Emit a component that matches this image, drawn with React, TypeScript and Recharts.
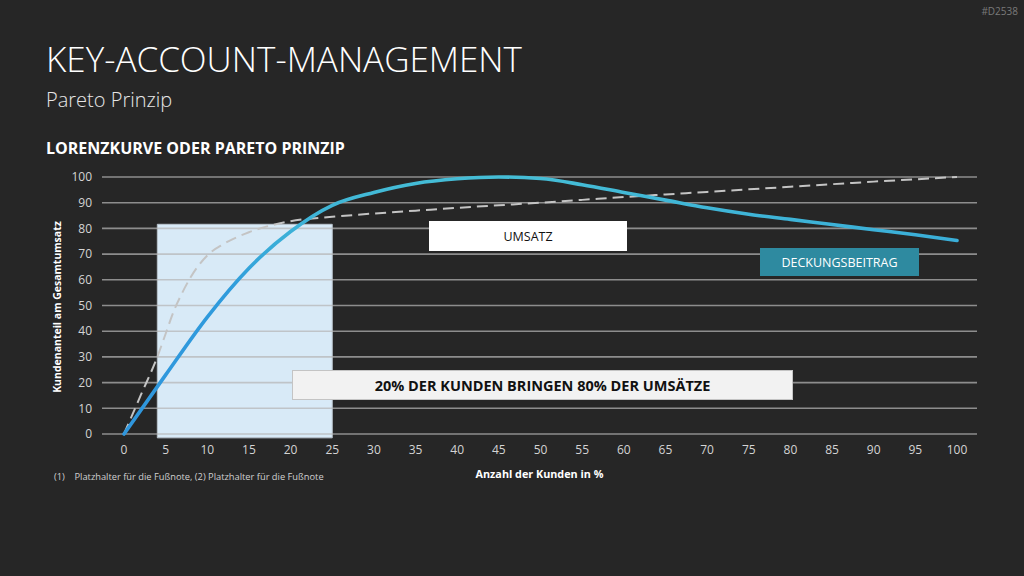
import React from 'react';
import { LineChart, Line, XAxis, YAxis, ReferenceArea, ReferenceLine } from 'recharts';

// x = Anzahl der Kunden in %
const xValues = [0, 2, 4, 5, 6, 7, 8, 10, 12, 15, 20, 25, 30, 35, 40, 45, 50, 55, 60, 65, 70, 75, 80, 85, 90, 95, 100];
// Deckungsbeitrag only read at every 5%
const deckungsbeitrag = [0, null, null, 23, null, null, null, 45.5, null, 64.5, 78.8, 89, 94, 97.5, 99.3, 100, 99.4, 97, 94, 91, 88, 85.5, 83.5, 81.5, 79.5, 77.5, 75.3];
const umsatz = [0, 15, 30, 39, 48, 55, 61, 69.5, 74, 78.5, 82.8, 84.5, 85.8, 86.9, 88, 89, 90, 91.1, 92.2, 93.2, 94.2, 95.2, 96.2, 97.2, 98.2, 99.1, 100];

const xTicks = [0, 5, 10, 15, 20, 25, 30, 35, 40, 45, 50, 55, 60, 65, 70, 75, 80, 85, 90, 95, 100];
const yTicks = [0, 10, 20, 30, 40, 50, 60, 70, 80, 90, 100];

// highlighted 20% band
const bandX = [4, 25];
const bandY = [-1.5, 81.6];

const data = xValues.map((x, i) => ({ x, db: deckungsbeitrag[i], umsatz: umsatz[i] }));

const FONT = '"Open Sans", "Noto Sans", sans-serif';
const BG = '#262626';

const box = (extra: React.CSSProperties): React.CSSProperties => ({
  position: 'absolute',
  display: 'flex',
  alignItems: 'center',
  justifyContent: 'center',
  boxSizing: 'border-box',
  fontFamily: FONT,
  ...extra,
});

export default function App() {
  return (
    <div style={{ position: 'fixed', left: 0, top: 0, width: 1024, height: 576, background: BG, overflow: 'hidden', fontFamily: FONT }}>
      <div style={{ position: 'absolute', right: 6, top: 6, fontSize: 10, color: '#7a7a7a', lineHeight: 1 }}>#D2538</div>
      <div style={{ position: 'absolute', left: 46, top: 41, fontSize: 35, fontWeight: 300, color: '#ffffff', lineHeight: 1, whiteSpace: 'nowrap' }}>
        KEY-ACCOUNT-MANAGEMENT
      </div>
      <div style={{ position: 'absolute', left: 46, top: 90, fontSize: 20, fontWeight: 300, color: '#e6e6e6', lineHeight: 1 }}>
        Pareto Prinzip
      </div>
      <div style={{ position: 'absolute', left: 46, top: 140, fontSize: 16, fontWeight: 700, color: '#ffffff', lineHeight: 1, whiteSpace: 'nowrap' }}>
        LORENZKURVE ODER PARETO PRINZIP
      </div>

      <div style={{ position: 'absolute', left: 0, top: 0 }}>
        <LineChart width={1024} height={576} data={data} margin={{ top: 177, right: 47, bottom: 112, left: 72 }}>
          <defs>
            <linearGradient id="dbGrad" x1="0" y1="0" x2="0" y2="1">
              <stop offset="0%" stopColor="#45bdd6" />
              <stop offset="25%" stopColor="#3aaed8" />
              <stop offset="45%" stopColor="#2f9bdc" />
              <stop offset="100%" stopColor="#2f96dd" />
            </linearGradient>
          </defs>
          <XAxis
            dataKey="x"
            type="number"
            domain={[0, 100]}
            ticks={xTicks}
            padding={{ left: 22, right: 20 }}
            axisLine={false}
            tickLine={false}
            tickSize={0}
            tickMargin={11}
            height={30}
            tick={{ fill: '#d4d4d4', fontSize: 12, fontFamily: FONT }}
            interval={0}
            label={{ value: 'Anzahl der Kunden in %', position: 'bottom', offset: 6, fill: '#ffffff', fontSize: 10.8, fontWeight: 700, fontFamily: FONT }}
          />
          <YAxis
            type="number"
            domain={[0, 100]}
            ticks={yTicks}
            axisLine={false}
            tickLine={false}
            tickSize={0}
            tickMargin={10}
            width={30}
            interval={0}
            tick={{ fill: '#d4d4d4', fontSize: 12, fontFamily: FONT }}
          />
          <ReferenceArea
            x1={bandX[0]}
            x2={bandX[1]}
            y1={bandY[0]}
            y2={bandY[1]}
            ifOverflow="visible"
            fill="#d8eaf7"
            fillOpacity={1}
            stroke="#b9c3cc"
            strokeWidth={1}
          />
          {yTicks.map((t) => (
            <ReferenceLine key={t} y={t} stroke="#b5b5b5" strokeOpacity={0.72} strokeWidth={1.6} />
          ))}
          <Line
            dataKey="umsatz"
            type="monotone"
            stroke="#c4c4c4"
            strokeWidth={2}
            strokeDasharray="11 6"
            dot={false}
            activeDot={false}
            isAnimationActive={false}
          />
          <Line
            dataKey="db"
            type="monotone"
            connectNulls
            stroke="url(#dbGrad)"
            strokeWidth={3.6}
            strokeLinecap="round"
            dot={false}
            activeDot={false}
            isAnimationActive={false}
          />
        </LineChart>
      </div>

      <div
        style={{
          position: 'absolute',
          left: 57,
          top: 307,
          transform: 'translate(-50%, -50%) rotate(-90deg)',
          fontSize: 10.5,
          fontWeight: 700,
          color: '#ffffff',
          whiteSpace: 'nowrap',
          lineHeight: 1,
        }}
      >
        Kundenanteil am Gesamtumsatz
      </div>

      <div style={{ position: 'absolute', left: 54, top: 472, fontSize: 9.3, color: '#d0d0d0', whiteSpace: 'pre', lineHeight: 1 }}>
        {'(1)    Platzhalter für die Fußnote, (2) Platzhalter für die Fußnote'}
      </div>

      <div style={box({ left: 429, top: 221, width: 198, height: 30, background: '#ffffff', color: '#111', fontSize: 12.5 })}>UMSATZ</div>
      <div style={box({ left: 760, top: 248, width: 159, height: 28, background: '#2e8aa0', color: '#ffffff', fontSize: 12.5 })}>
        DECKUNGSBEITRAG
      </div>
      <div
        style={box({
          left: 292,
          top: 370,
          width: 501,
          height: 30,
          background: '#f2f2f2',
          border: '1px solid #c4c4c4',
          color: '#111',
          fontSize: 14.5,
          fontWeight: 700,
        })}
      >
        20% DER KUNDEN BRINGEN 80% DER UMSÄTZE
      </div>
    </div>
  );
}
